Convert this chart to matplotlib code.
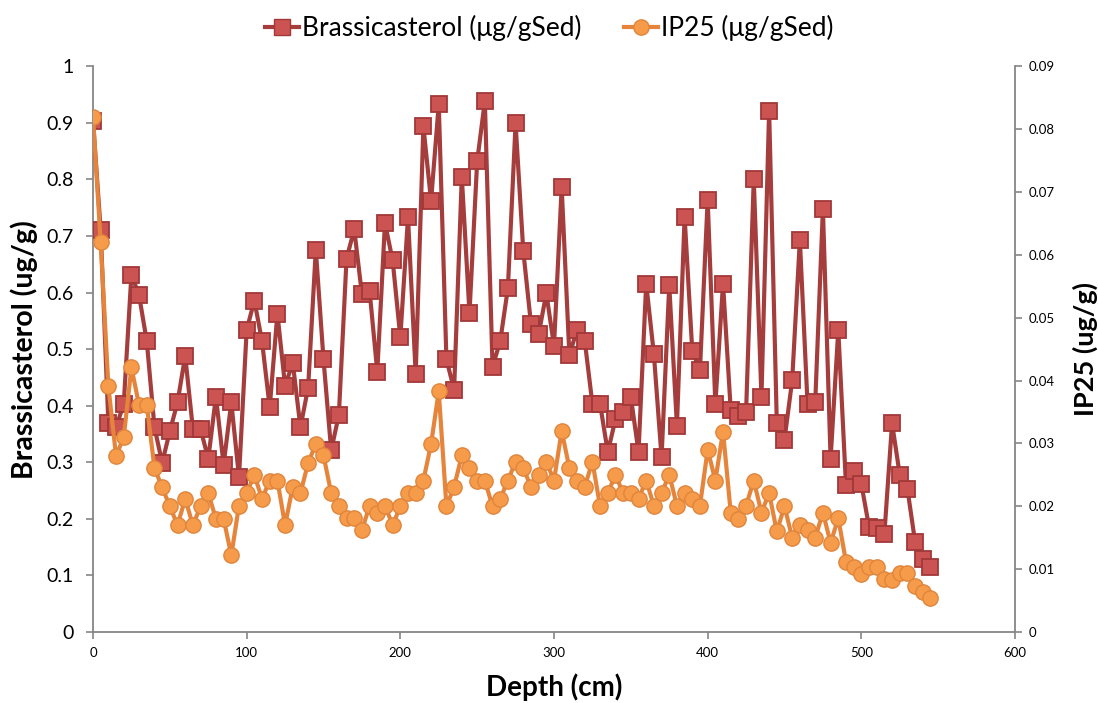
import numpy as np
import matplotlib.pyplot as plt
from matplotlib.lines import Line2D

plt.rcParams['font.family'] = ['Lato', 'DejaVu Sans']

# depth in cm, sampled every 5 cm
depth = list(range(0, 550, 5))

brassicasterol = [
    0.904, 0.710, 0.369, 0.362, 0.403, 0.632, 0.595, 0.514, 0.362, 0.299,
    0.355, 0.406, 0.488, 0.359, 0.359, 0.306, 0.416, 0.296, 0.406, 0.274,
    0.534, 0.586, 0.514, 0.397, 0.563, 0.435, 0.476, 0.362, 0.432, 0.676,
    0.482, 0.321, 0.384, 0.660, 0.712, 0.597, 0.603, 0.460, 0.723, 0.657,
    0.521, 0.733, 0.456, 0.894, 0.762, 0.933, 0.482, 0.428, 0.805, 0.564,
    0.832, 0.939, 0.469, 0.514, 0.608, 0.899, 0.674, 0.545, 0.526, 0.599,
    0.506, 0.786, 0.490, 0.534, 0.515, 0.403, 0.403, 0.318, 0.376, 0.389,
    0.416, 0.318, 0.616, 0.491, 0.309, 0.613, 0.365, 0.734, 0.496, 0.464,
    0.764, 0.403, 0.616, 0.393, 0.382, 0.389, 0.800, 0.416, 0.921, 0.370,
    0.340, 0.445, 0.693, 0.403, 0.406, 0.748, 0.306, 0.534, 0.260, 0.285,
    0.262, 0.186, 0.183, 0.173, 0.369, 0.278, 0.253, 0.159, 0.129, 0.115,
]

ip25 = [
    0.0820, 0.0620, 0.0391, 0.0280, 0.0310, 0.0421, 0.0361, 0.0361, 0.0261, 0.0230,
    0.0200, 0.0170, 0.0212, 0.0170, 0.0200, 0.0221, 0.0180, 0.0180, 0.0122, 0.0201,
    0.0221, 0.0250, 0.0212, 0.0241, 0.0241, 0.0170, 0.0231, 0.0221, 0.0269, 0.0299,
    0.0281, 0.0221, 0.0200, 0.0181, 0.0181, 0.0162, 0.0201, 0.0190, 0.0201, 0.0170,
    0.0200, 0.0221, 0.0221, 0.0241, 0.0299, 0.0383, 0.0200, 0.0231, 0.0281, 0.0261,
    0.0241, 0.0241, 0.0200, 0.0212, 0.0241, 0.0271, 0.0261, 0.0231, 0.0250, 0.0271,
    0.0241, 0.0320, 0.0261, 0.0241, 0.0231, 0.0271, 0.0200, 0.0221, 0.0250, 0.0221,
    0.0221, 0.0212, 0.0241, 0.0201, 0.0221, 0.0250, 0.0201, 0.0221, 0.0212, 0.0201,
    0.0290, 0.0241, 0.0319, 0.0190, 0.0180, 0.0201, 0.0241, 0.0190, 0.0221, 0.0160,
    0.0200, 0.0150, 0.0170, 0.0162, 0.0150, 0.0190, 0.0142, 0.0181, 0.0112, 0.0103,
    0.0092, 0.0103, 0.0103, 0.0084, 0.0083, 0.0094, 0.0094, 0.0073, 0.0063, 0.0054,
]

left_ticks = [0, 0.1, 0.2, 0.3, 0.4, 0.5, 0.6, 0.7, 0.8, 0.9, 1]
right_ticks = [0, 0.01, 0.02, 0.03, 0.04, 0.05, 0.06, 0.07, 0.08, 0.09]
x_ticks = [0, 100, 200, 300, 400, 500, 600]

red_line = '#A63D3D'
red_face = '#CB5452'
red_edge = '#A23838'
orange_line = '#E5843A'
orange_face = '#F59B4A'
orange_edge = '#E0853C'
axis_grey = '#868686'

fig = plt.figure(figsize=(10.98, 7.03), dpi=100)
ax = fig.add_axes([0.0847, 0.101, 0.8397, 0.8046])
ax2 = ax.twinx()

ax.plot(depth, brassicasterol, color=red_line, lw=3.0, marker='s', ms=11,
        mfc=red_face, mec=red_edge, mew=1.3, zorder=3)
ax2.plot(depth, ip25, color=orange_line, lw=3.0, marker='o', ms=11,
         mfc=orange_face, mec=orange_edge, mew=1.0, zorder=3)

ax.set_xlim(0, 600)
ax.set_ylim(0, 1)
ax2.set_ylim(0, 0.09)
ax.set_xticks(x_ticks)
ax.set_yticks(left_ticks)
ax.set_yticklabels([f'{v:g}' for v in left_ticks])
ax2.set_yticks(right_ticks)
ax2.set_yticklabels([f'{v:g}' for v in right_ticks])

for a in (ax, ax2):
    a.spines['top'].set_visible(False)
    for s in ('left', 'right', 'bottom'):
        a.spines[s].set_color(axis_grey)
        a.spines[s].set_linewidth(1.3)
    a.tick_params(colors=axis_grey, length=5, width=1.2, labelcolor='black')
ax.spines['right'].set_visible(False)
ax2.spines['left'].set_visible(False)
ax2.spines['bottom'].set_visible(False)

ax.tick_params(axis='y', labelsize=14, pad=9)
ax.tick_params(axis='x', labelsize=9.5, pad=6)
ax2.tick_params(axis='y', labelsize=9.5, pad=5)

ax.set_xlabel('Depth (cm)', fontsize=20, fontweight='bold', va='center')
ax.set_ylabel('Brassicasterol (ug/g)', fontsize=20.5, fontweight='bold', va='center')
ax2.set_ylabel('IP25 (ug/g)', fontsize=19.5, fontweight='bold', va='center')
ax.xaxis.set_label_coords(0.5, -0.097)
ax.yaxis.set_label_coords(-0.075, 0.5)
ax2.yaxis.set_label_coords(1.076, 0.5)

handles = [
    Line2D([], [], color=red_line, lw=3.0, marker='s', ms=11, mfc=red_face, mec=red_edge),
    Line2D([], [], color=orange_line, lw=3.0, marker='o', ms=11, mfc=orange_face, mec=orange_edge),
]
fig.legend(handles, ['Brassicasterol (μg/gSed)', 'IP25 (μg/gSed)'],
           loc='upper center', bbox_to_anchor=(0.5, 1.012), ncol=2, frameon=False,
           fontsize=19, handlelength=1.3, handletextpad=0.1, columnspacing=1.6)

fig.savefig('out.png', dpi=100)
